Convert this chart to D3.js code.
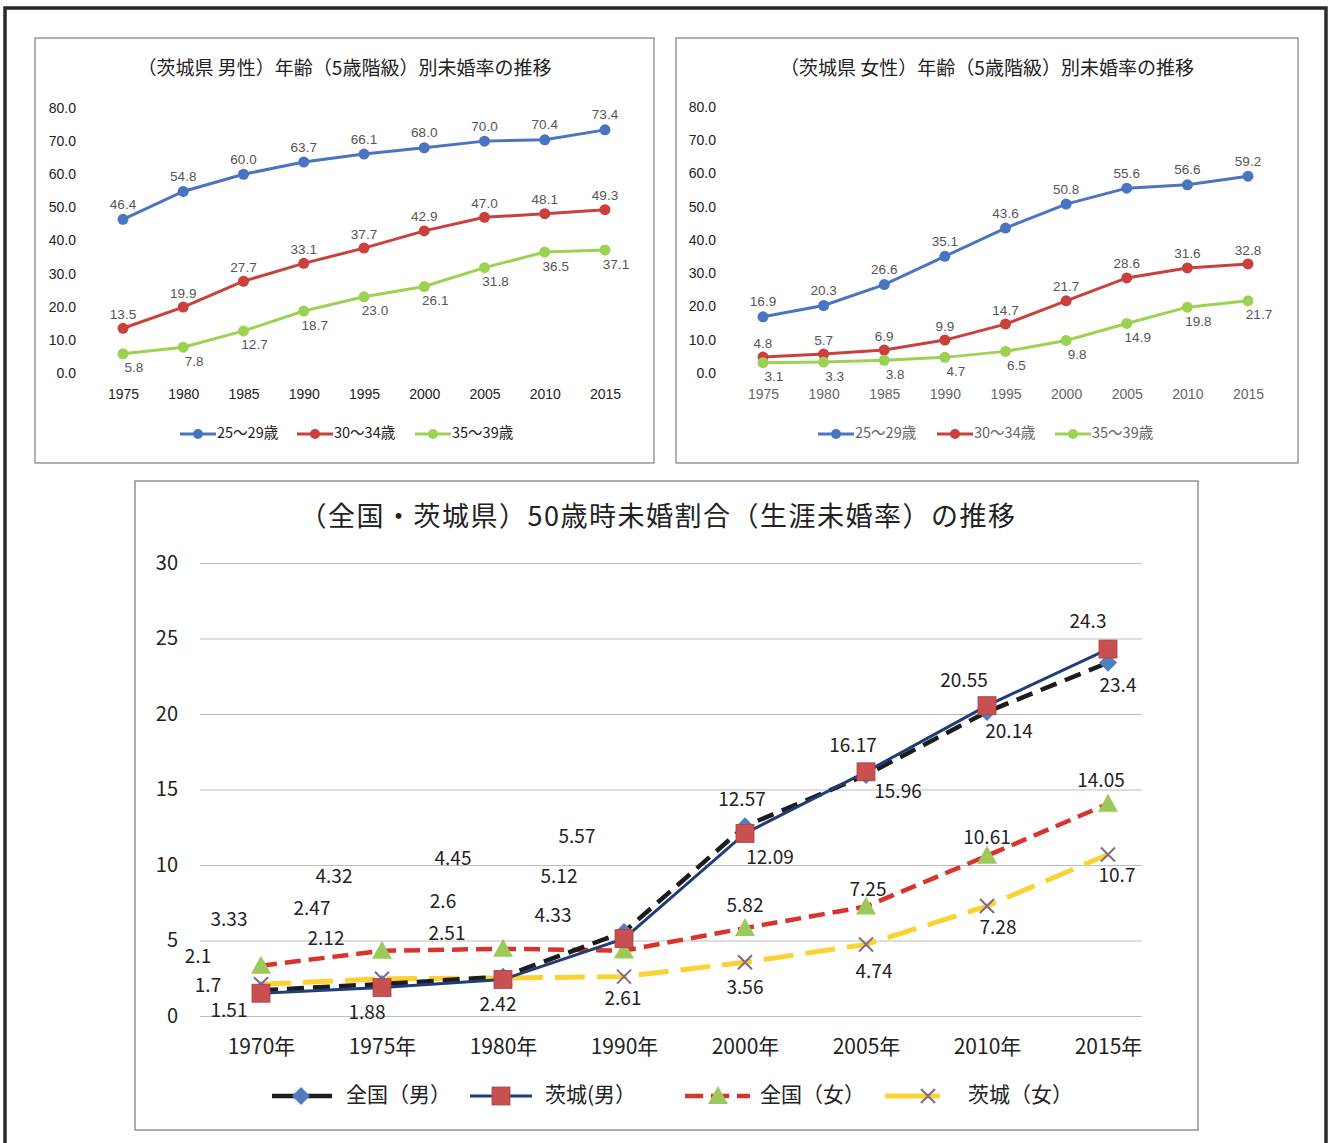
<!DOCTYPE html>
<html>
<head>
<meta charset="utf-8">
<script src="https://cdn.jsdelivr.net/npm/d3@7"></script>
<style>
  body { margin: 0; background: #fff; }
  svg { display: block; }
  text { font-family: "Noto Sans CJK JP", "Noto Sans", sans-serif; }
</style>
</head>
<body>
<svg id="chart" width="1334" height="1143"></svg>
<script>
// --- data: top charts (茨城県 年齢別未婚率) ---
const years = ["1975", "1980", "1985", "1990", "1995", "2000", "2005", "2010", "2015"];
const ageGroups = ["25～29歳", "30～34歳", "35～39歳"];
const maleRates = [
  [46.4, 54.8, 60.0, 63.7, 66.1, 68.0, 70.0, 70.4, 73.4],
  [13.5, 19.9, 27.7, 33.1, 37.7, 42.9, 47.0, 48.1, 49.3],
  [5.8, 7.8, 12.7, 18.7, 23.0, 26.1, 31.8, 36.5, 37.1]
];
const femaleRates = [
  [16.9, 20.3, 26.6, 35.1, 43.6, 50.8, 55.6, 56.6, 59.2],
  [4.8, 5.7, 6.9, 9.9, 14.7, 21.7, 28.6, 31.6, 32.8],
  [3.1, 3.3, 3.8, 4.7, 6.5, 9.8, 14.9, 19.8, 21.7]
];
const topTicks = [0, 10, 20, 30, 40, 50, 60, 70, 80];

// --- data: bottom chart (50歳時未婚割合) ---
const lifeYears = ["1970年", "1975年", "1980年", "1990年", "2000年", "2005年", "2010年", "2015年"];
const lifeNames = ["全国（男）", "茨城(男）", "全国（女）", "茨城（女）"];
const zenkokuMale = [1.7, 2.12, 2.6, 5.57, 12.57, 15.96, 20.14, 23.4];
const ibarakiMale = [1.51, 1.88, 2.42, 5.12, 12.09, 16.17, 20.55, 24.3];
const zenkokuFemale = [3.33, 4.32, 4.45, 4.33, 5.82, 7.25, 10.61, 14.05];
const ibarakiFemale = [2.1, 2.47, 2.51, 2.61, 3.56, 4.74, 7.28, 10.7];
const lifeTicks = [0, 5, 10, 15, 20, 25, 30];

// label placement (pixels from the point) for the bottom chart, as in the original
const lifeLabelOffsets = [
  [[-53, -3], [-56, -44], [-60, -74], [-47, -94], [-3, -25], [32, 18], [22, 21], [10, 24]],
  [[-32, 19], [-15, 26], [-5, 26], [-65, -61], [25, 25], [-13, -25], [-23, -24], [-20, -26]],
  [[-32, -45], [-48, -73], [-50, -89], [-71, -34], [0, -21], [2, -16], [0, -17], [-7, -22]],
  [[-63, -26], [-70, -69], [-56, -43], [-1, 23], [0, 27], [8, 28], [11, 23], [9, 22]]
];

const svg = d3.select("#chart");

// outer frame
svg.append("rect")
  .attr("x", 5).attr("y", 8).attr("width", 1321).attr("height", 1160)
  .attr("fill", "none").attr("stroke", "#2a2a2a").attr("stroke-width", 3.5);

const topColors = ["#4a74c2", "#c9403c", "#9dd152"];

function drawSmall(opt) {
  const g = svg.append("g");
  g.append("rect")
    .attr("x", opt.box[0]).attr("y", opt.box[1]).attr("width", opt.box[2]).attr("height", opt.box[3])
    .attr("fill", "#fff").attr("stroke", "#666").attr("stroke-width", 1);

  g.append("text")
    .attr("x", opt.box[0] + opt.box[2] / 2).attr("y", 75)
    .attr("text-anchor", "middle").attr("font-size", 19).attr("fill", "#222")
    .text(opt.title);

  const x = d3.scalePoint().domain(years).range(opt.xr);
  const y = d3.scaleLinear().domain([0, 80]).range(opt.yr);

  const ya = g.append("g")
    .attr("transform", `translate(${opt.yAxisX},0)`)
    .call(d3.axisLeft(y).tickValues(topTicks).tickSize(0).tickPadding(0).tickFormat(d3.format(".1f")));
  ya.select(".domain").remove();
  ya.selectAll("text").attr("font-size", 14).attr("fill", "#222")
    .style("font-family", "Liberation Sans Narrow, Liberation Sans, sans-serif");

  const xa = g.append("g")
    .attr("transform", `translate(0,${opt.yr[0]})`)
    .call(d3.axisBottom(x).tickSize(0).tickPadding(16));
  xa.select(".domain").remove();
  xa.selectAll("text").attr("font-size", 14).attr("fill", opt.yearColor)
    .style("font-family", "Liberation Sans Narrow, Liberation Sans, sans-serif");

  const line = d3.line().x((d, i) => x(years[i])).y(d => y(d));
  const labelDy = [-14, -13, 15];
  const labelDx = [0, 0, 11];

  opt.data.forEach((vals, s) => {
    g.append("path").datum(vals)
      .attr("d", line).attr("fill", "none")
      .attr("stroke", topColors[s]).attr("stroke-width", 3);
    g.selectAll(null).data(vals).enter().append("circle")
      .attr("cx", (d, i) => x(years[i])).attr("cy", d => y(d)).attr("r", 5.5)
      .attr("fill", topColors[s]);
    g.selectAll(null).data(vals).enter().append("text")
      .attr("x", (d, i) => x(years[i]) + labelDx[s]).attr("y", d => y(d) + labelDy[s])
      .attr("text-anchor", "middle").attr("dominant-baseline", "middle")
      .attr("font-size", 13.5).attr("fill", "#555")
      .style("font-family", "Liberation Sans Narrow, Liberation Sans, sans-serif")
      .text(d => d.toFixed(1));
  });

  // legend
  ageGroups.forEach((name, s) => {
    const lx = opt.legendX[s];
    g.append("line").attr("x1", lx).attr("x2", lx + 36).attr("y1", 434).attr("y2", 434)
      .attr("stroke", topColors[s]).attr("stroke-width", 3);
    g.append("circle").attr("cx", lx + 18).attr("cy", 434).attr("r", 5).attr("fill", topColors[s]);
    g.append("text").attr("x", lx + 37).attr("y", 434).attr("dominant-baseline", "middle")
      .attr("font-size", 14.5).attr("fill", opt.yearColor).text(name);
  });
}

drawSmall({
  box: [35, 38, 619, 425], title: "（茨城県 男性）年齢（5歳階級）別未婚率の推移",
  xr: [123, 605], yr: [373, 108], yAxisX: 76, data: maleRates,
  legendX: [180, 297, 415], yearColor: "#222"
});
drawSmall({
  box: [676, 38, 622, 425], title: "（茨城県 女性）年齢（5歳階級）別未婚率の推移",
  xr: [763, 1248], yr: [373, 107], yAxisX: 716, data: femaleRates,
  legendX: [818, 937, 1055], yearColor: "#666"
});

// --- bottom chart ---
const gb = svg.append("g");
gb.append("rect").attr("x", 135).attr("y", 481).attr("width", 1063).attr("height", 649)
  .attr("fill", "#fff").attr("stroke", "#777").attr("stroke-width", 1.2);

gb.append("text").attr("x", 658).attr("y", 526).attr("text-anchor", "middle")
  .attr("font-size", 27).attr("letter-spacing", 1.5).attr("fill", "#222")
  .text("（全国・茨城県）50歳時未婚割合（生涯未婚率）の推移");

const bx = d3.scalePoint().domain(lifeYears).range([261, 1108]);
const by = d3.scaleLinear().domain([0, 30]).range([1016, 563]);

const bya = gb.append("g").attr("transform", "translate(200,0)")
  .call(d3.axisLeft(by).tickValues(lifeTicks).tickSize(-942).tickPadding(22));
bya.select(".domain").remove();
bya.selectAll("line").attr("stroke", "#bdbdbd").attr("stroke-width", 1);
bya.selectAll("text").attr("font-size", 20).attr("fill", "#222");

const bxa = gb.append("g").attr("transform", "translate(0,1016)")
  .call(d3.axisBottom(bx).tickSize(0).tickPadding(23));
bxa.select(".domain").remove();
bxa.selectAll("text").attr("font-size", 21).attr("fill", "#222");

const lifeSeries = [zenkokuMale, ibarakiMale, zenkokuFemale, ibarakiFemale];
const lifeStyles = [
  { stroke: "#1c1c1c", width: 4.5, dash: "17,9", marker: "diamond", mfill: "#4f7fc0" },
  { stroke: "#1f3d78", width: 3, dash: null, marker: "square", mfill: "#c85050" },
  { stroke: "#d9342b", width: 4.5, dash: "16,8", marker: "triangle", mfill: "#9bc95a" },
  { stroke: "#fbd232", width: 5, dash: "30,12", marker: "cross", mfill: "#7b6a8c" }
];
const lineDraw = [3, 2, 0, 1]; // drawing order

const bline = d3.line().x((d, i) => bx(lifeYears[i])).y(d => by(d));

function drawMarker(sel, type, fill, cx, cy) {
  if (type === "diamond") {
    sel.append("path").attr("d", `M${cx},${cy - 9}L${cx + 9},${cy}L${cx},${cy + 9}L${cx - 9},${cy}Z`).attr("fill", fill);
  } else if (type === "square") {
    sel.append("rect").attr("x", cx - 9).attr("y", cy - 9).attr("width", 18).attr("height", 18)
      .attr("fill", fill).attr("stroke", "#b04040").attr("stroke-width", 0.8);
  } else if (type === "triangle") {
    sel.append("path").attr("d", `M${cx},${cy - 10}L${cx + 10},${cy + 8}L${cx - 10},${cy + 8}Z`).attr("fill", fill);
  } else {
    sel.append("path").attr("d", `M${cx - 7},${cy - 7}L${cx + 7},${cy + 7}M${cx - 7},${cy + 7}L${cx + 7},${cy - 7}`)
      .attr("stroke", fill).attr("stroke-width", 2).attr("fill", "none");
  }
}

lineDraw.forEach(s => {
  const st = lifeStyles[s];
  gb.append("path").datum(lifeSeries[s]).attr("d", bline).attr("fill", "none")
    .attr("stroke", st.stroke).attr("stroke-width", st.width)
    .attr("stroke-dasharray", st.dash);
});
lineDraw.forEach(s => {
  const st = lifeStyles[s];
  lifeSeries[s].forEach((v, i) => drawMarker(gb, st.marker, st.mfill, bx(lifeYears[i]), by(v)));
});
lifeSeries.forEach((vals, s) => {
  gb.selectAll(null).data(vals).enter().append("text")
    .attr("x", (d, i) => bx(lifeYears[i]) + lifeLabelOffsets[s][i][0])
    .attr("y", (d, i) => by(d) + lifeLabelOffsets[s][i][1])
    .attr("text-anchor", "middle").attr("dominant-baseline", "middle")
    .attr("font-size", 19).attr("fill", "#222")
    .text(d => String(d));
});

// bottom legend
const legendItems = [
  { x1: 272, x2: 332, mx: 301, tx: 346 },
  { x1: 470, x2: 532, mx: 501, tx: 545 },
  { x1: 685, x2: 750, mx: 718, tx: 760 },
  { x1: 885, x2: 940, mx: 928, tx: 968 }
];
legendItems.forEach((it, s) => {
  const st = lifeStyles[s];
  gb.append("line").attr("x1", it.x1).attr("x2", it.x2).attr("y1", 1096).attr("y2", 1096)
    .attr("stroke", st.stroke).attr("stroke-width", st.width)
    .attr("stroke-dasharray", s === 2 ? "18,8" : null);
  drawMarker(gb, st.marker, st.mfill, it.mx, 1096);
  gb.append("text").attr("x", it.tx).attr("y", 1096).attr("dominant-baseline", "middle")
    .attr("font-size", 21).attr("fill", "#222").text(lifeNames[s]);
});
</script>
</body>
</html>
